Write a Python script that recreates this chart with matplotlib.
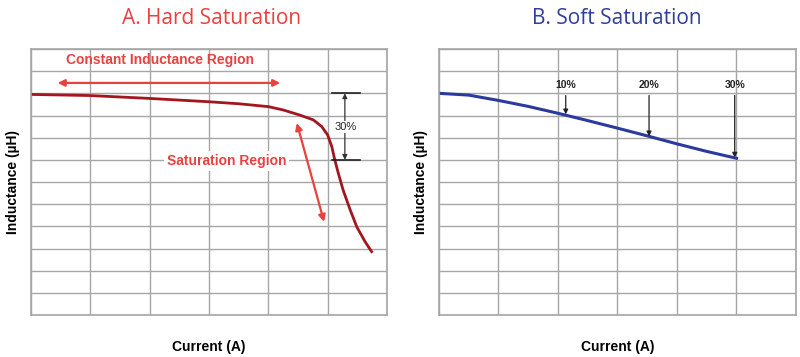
import matplotlib
matplotlib.use("Agg")
import matplotlib.pyplot as plt

# ---- data ----
hard_x = [0, 1, 2, 3, 3.5, 4, 4.25, 4.53, 4.76, 4.9, 5.0, 5.07, 5.12, 5.18,
          5.26, 5.38, 5.49, 5.63, 5.74]
hard_y = [9.95, 9.9, 9.77, 9.62, 9.53, 9.4, 9.25, 9.02, 8.8, 8.5, 8.12, 7.59,
          7.0, 6.39, 5.64, 4.74, 3.98, 3.31, 2.86]
soft_x = [0, 0.5, 1, 1.5, 2, 2.5, 3, 3.5, 4, 4.5, 5]
soft_y = [10.0, 9.92, 9.68, 9.41, 9.1, 8.77, 8.43, 8.08, 7.72, 7.38, 7.07]
soft_marks = ["10%", "20%", "30%"]
soft_mark_x = [2.13, 3.53, 4.97]
soft_mark_tip = [9.05, 8.06, 7.1]
titles = ["A. Hard Saturation", "B. Soft Saturation"]
xlabel = "Current (A)"
ylabel = "Inductance (µH)"

RED_T = "#E8413F"
BLUE_T = "#2E3F9C"
DARKRED = "#A3161F"
BLUE = "#2B3A9E"
GRID = "#A6A6A6"

plt.rcParams['font.family'] = ['Liberation Sans', 'DejaVu Sans']

fig = plt.figure(figsize=(8, 3.57), dpi=100)
axA = fig.add_axes([31/800, 1-315/357, 356/800, 266/357])
axB = fig.add_axes([439/800, 1-315/357, 357/800, 266/357])

for ax in (axA, axB):
    ax.set_xlim(0, 6)
    ax.set_ylim(0, 12)
    ax.set_xticks(range(0, 7))
    ax.set_yticks(range(0, 13))
    ax.grid(True, color=GRID, lw=1)
    ax.tick_params(length=0, labelbottom=False, labelleft=False)
    for s in ax.spines.values():
        s.set_color(GRID)
        s.set_linewidth(1.2)
    ax.set_xlabel(xlabel, fontsize=10, fontweight='bold', labelpad=18)
    ax.set_ylabel(ylabel, fontsize=10, fontweight='bold', labelpad=8)

fig.text(212/800, 1-19/357, titles[0], ha='center', va='center', color=RED_T,
         fontsize=15, family=['Open Sans', 'DejaVu Sans'])
fig.text(617/800, 1-19/357, titles[1], ha='center', va='center', color=BLUE_T,
         fontsize=15, family=['Open Sans', 'DejaVu Sans'])

# Hard saturation
axA.plot(hard_x, hard_y, color=DARKRED, lw=2, solid_joinstyle='round')
axA.annotate("", xy=(0.45, 10.47), xytext=(4.2, 10.47),
             arrowprops=dict(arrowstyle="<|-|>", color=RED_T, lw=1.6,
                             mutation_scale=10, shrinkA=0, shrinkB=0))
axA.text(2.18, 11.5, "Constant Inductance Region", ha='center', va='center',
         color=RED_T, fontsize=10, fontweight='bold')
axA.annotate("", xy=(4.48, 8.66), xytext=(4.94, 4.2),
             arrowprops=dict(arrowstyle="<|-|>", color=RED_T, lw=1.6,
                             mutation_scale=10, shrinkA=0, shrinkB=0))
axA.text(3.3, 6.95, "Saturation Region", ha='center', va='center',
         color=RED_T, fontsize=10, fontweight='bold',
         bbox=dict(facecolor='white', edgecolor='none', pad=2))
# 30% bracket
axA.plot([5.07, 5.55], [10, 10], color='#222222', lw=1.2)
axA.plot([5.07, 5.55], [7, 7], color='#222222', lw=1.2)
axA.annotate("", xy=(5.29, 10), xytext=(5.29, 7),
             arrowprops=dict(arrowstyle="<|-|>", color='#333333', lw=0.9,
                             mutation_scale=7, shrinkA=0, shrinkB=0))
axA.text(5.3, 8.48, "30%", ha='center', va='center', fontsize=8, color='#222222',
         bbox=dict(facecolor='white', edgecolor='none', pad=1))

# Soft saturation
axB.plot(soft_x, soft_y, color=BLUE, lw=2.2, solid_joinstyle='round')
for lab, mx, tip in zip(soft_marks, soft_mark_x, soft_mark_tip):
    axB.annotate("", xy=(mx, tip), xytext=(mx, 9.9),
                 arrowprops=dict(arrowstyle="-|>", color='#222222', lw=0.9,
                                 mutation_scale=7, shrinkA=0, shrinkB=0))
    axB.text(mx, 10.37, lab, ha='center', va='center', fontsize=7.5,
             fontweight='bold', color='#222222')

fig.savefig("out.png", dpi=100)
